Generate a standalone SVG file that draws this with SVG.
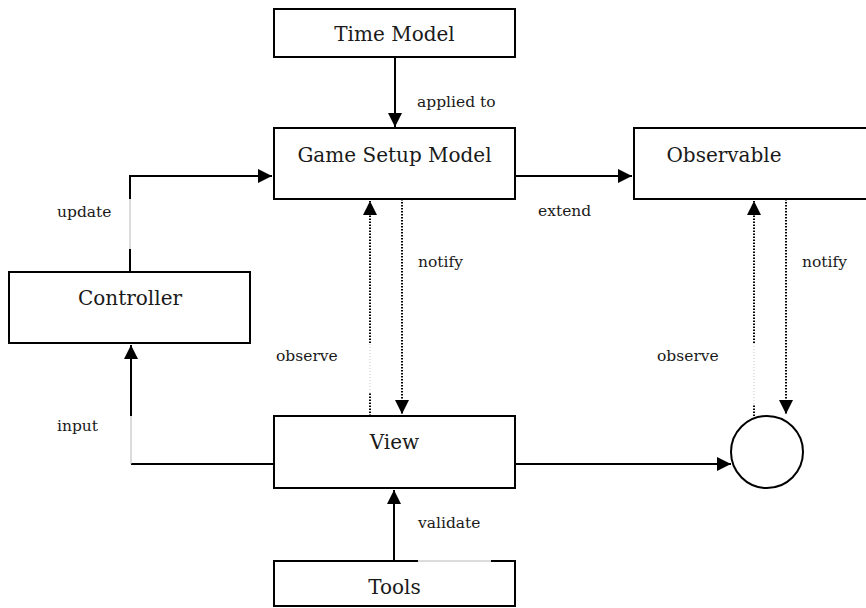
<svg xmlns="http://www.w3.org/2000/svg" width="866" height="608" viewBox="0 0 866 608">
  <style>
    .box { fill: #fff; stroke: #000; stroke-width: 2; }
    .node { font-size: 20px; fill: #1a1a1a; text-anchor: middle; }
    .lbl { font-size: 15.5px; fill: #1a1a1a; }
    .solid { fill: none; stroke: #000; stroke-width: 2; }
    .dot { fill: none; stroke: #000; stroke-width: 2; stroke-dasharray: 1.6 1.4; }
    .faint { fill: none; stroke: #b8b8b8; stroke-width: 1; }
    .faintdot { fill: none; stroke: #c8c8c8; stroke-width: 1; stroke-dasharray: 1 2; }
  </style>
  <defs>
    <marker id="tri" viewBox="0 0 10 10" refX="10" refY="5" markerWidth="7" markerHeight="7" markerUnits="strokeWidth" orient="auto">
      <path d="M0,0 L10,5 L0,10 z" fill="#000"/>
    </marker>
  </defs>
  <rect width="866" height="608" fill="#fff"/>

  <g font-family="'DejaVu Serif', 'Noto Serif', serif">
    <g id="time-model">
      <rect class="box" x="274" y="9" width="241" height="48"/>
      <text class="node" x="394.5" y="41">Time Model</text>
    </g>
    <g id="game-setup-model">
      <rect class="box" x="274" y="128" width="241" height="71"/>
      <text class="node" x="394.5" y="162">Game Setup Model</text>
    </g>
    <g id="observable">
      <rect class="box" x="634" y="128" width="250" height="71"/>
      <text class="node" x="724" y="162">Observable</text>
    </g>
    <g id="controller">
      <rect class="box" x="9" y="272" width="241" height="71"/>
      <text class="node" x="130" y="305">Controller</text>
    </g>
    <g id="view">
      <rect class="box" x="274" y="416" width="241" height="72"/>
      <text class="node" x="394.5" y="449">View</text>
    </g>
    <g id="tools">
      <rect class="box" x="274" y="561" width="241" height="45"/>
      <text class="node" x="394.5" y="594">Tools</text>
    </g>
    <g id="instance">
      <circle class="box" cx="767" cy="452" r="36"/>
    </g>

    <g id="connectors">
      <!-- Time Model applied to Game Setup Model -->
      <line class="solid" x1="395" y1="57" x2="395" y2="127" marker-end="url(#tri)"/>
      <!-- Controller updates Game Setup Model -->
      <line class="solid" x1="130" y1="272" x2="130" y2="249"/>
      <line class="faint" x1="130" y1="249" x2="130" y2="199"/>
      <polyline class="solid" points="130,199 130,176 272,176" marker-end="url(#tri)"/>
      <!-- Game Setup Model extends Observable -->
      <line class="solid" x1="515" y1="176" x2="632" y2="176" marker-end="url(#tri)"/>
      <!-- View observes / is notified by Game Setup Model -->
      <line class="dot" x1="370" y1="416" x2="370" y2="393"/>
      <line class="faintdot" x1="370" y1="393" x2="370" y2="343"/>
      <line class="dot" x1="370" y1="343" x2="370" y2="201" marker-end="url(#tri)"/>
      <line class="dot" x1="402" y1="199" x2="402" y2="414" marker-end="url(#tri)"/>
      <!-- View input to Controller -->
      <line class="solid" x1="274" y1="464" x2="131" y2="464"/>
      <line class="faint" x1="131" y1="464" x2="131" y2="416"/>
      <line class="solid" x1="131" y1="416" x2="131" y2="345" marker-end="url(#tri)"/>
      <!-- View to instance -->
      <line class="solid" x1="515" y1="464" x2="731" y2="464" marker-end="url(#tri)"/>
      <!-- Tools validate View -->
      <line class="solid" x1="394" y1="561" x2="394" y2="490" marker-end="url(#tri)"/>
      <line x1="418" y1="561" x2="491" y2="561" stroke="#fff" stroke-width="3"/>
      <line class="faint" x1="418" y1="561" x2="491" y2="561"/>
      <!-- Instance observes / is notified by Observable -->
      <line class="faintdot" x1="754" y1="416" x2="754" y2="343"/>
      <line class="dot" x1="754" y1="416" x2="754" y2="404"/>
      <line class="dot" x1="754" y1="343" x2="754" y2="201" marker-end="url(#tri)"/>
      <line class="dot" x1="786" y1="199" x2="786" y2="414" marker-end="url(#tri)"/>
    </g>

    <g id="labels">
      <text class="lbl" x="417" y="107">applied to</text>
      <text class="lbl" x="57" y="217">update</text>
      <text class="lbl" x="538" y="216">extend</text>
      <text class="lbl" x="418" y="267">notify</text>
      <text class="lbl" x="802" y="267">notify</text>
      <text class="lbl" x="276" y="361">observe</text>
      <text class="lbl" x="657" y="361">observe</text>
      <text class="lbl" x="57" y="431">input</text>
      <text class="lbl" x="418" y="528">validate</text>
    </g>
  </g>
</svg>
